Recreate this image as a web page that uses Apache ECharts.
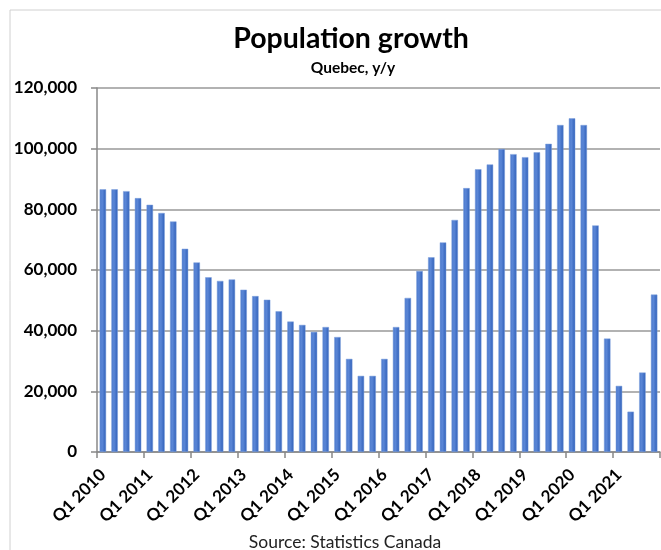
<!DOCTYPE html>
<html><head><meta charset="utf-8">
<script src="https://cdn.jsdelivr.net/npm/echarts@6/dist/echarts.min.js"></script>
<style>html,body{margin:0;padding:0;background:#fff}#c{width:661px;height:550px}</style>
</head><body><div id="c"></div>
<script>
const years = [2010,2011,2012,2013,2014,2015,2016,2017,2018,2019,2020,2021];
const quarters = ['Q1','Q2','Q3','Q4'];
const categories = [];
years.forEach(y => quarters.forEach(q => categories.push(q + ' ' + y)));
const growth = [
  86600, 86600, 86000, 83700, 81500, 78800, 76000, 67000,
  62500, 57600, 56400, 56900, 53500, 51400, 50200, 46400,
  43000, 41900, 39600, 41200, 37900, 30700, 25100, 25100,
  30700, 41200, 50800, 59700, 64200, 69100, 76500, 87000,
  93200, 94800, 99900, 98200, 97200, 98800, 101600, 107800,
  110000, 107800, 74700, 37400, 21800, 13300, 26200, 51900
];
const yTicks = {min: 0, max: 120000, interval: 20000};
const titleText = 'Population growth';
const subtitleText = 'Quebec, y/y';
const sourceText = 'Source: Statistics Canada';

const chart = echarts.init(document.getElementById('c'));
const FONT = 'Lato';
chart.setOption({
  animation: false,
  backgroundColor: '#fff',
  graphic: [
    {type: 'rect', shape: {x: 10, y: 10, width: 700, height: 600}, style: {fill: 'none', stroke: '#d0d0d0', lineWidth: 1}, z: -1},
    {type: 'text', x: 351, y: 24, style: {text: titleText, font: 'bold 28.5px ' + FONT, fill: '#000', textAlign: 'center', textVerticalAlign: 'top'}},
    {type: 'text', x: 353, y: 60, style: {text: subtitleText, font: 'bold 15.5px ' + FONT, fill: '#000', textAlign: 'center', textVerticalAlign: 'top'}},
    {type: 'text', x: 345, y: 533, style: {text: sourceText, font: '17.5px ' + FONT, fill: '#222', textAlign: 'center', textVerticalAlign: 'top'}}
  ],
  grid: {left: 97, right: 1, top: 88, bottom: 98, containLabel: false},
  xAxis: {
    type: 'category',
    data: categories,
    boundaryGap: true,
    axisLine: {lineStyle: {color: '#888', width: 1.5}},
    axisTick: {show: true, interval: 3, length: 6, lineStyle: {color: '#888', width: 1.5}},
    axisLabel: {interval: 3, rotate: 45, fontFamily: FONT, fontWeight: 'bold', fontSize: 17, color: '#000', margin: 20}
  },
  yAxis: {
    type: 'value',
    min: yTicks.min, max: yTicks.max, interval: yTicks.interval,
    axisLine: {show: true, lineStyle: {color: '#888', width: 1.5}},
    axisTick: {show: true, length: 6, lineStyle: {color: '#888', width: 1.5}},
    splitLine: {lineStyle: {color: '#999', width: 1.5}},
    axisLabel: {fontFamily: FONT, fontWeight: 'bold', fontSize: 17, color: '#000', margin: 20,
      formatter: v => v.toLocaleString('en-US')}
  },
  series: [{
    type: 'bar',
    data: growth,
    barWidth: '55%',
    itemStyle: {
      color: new echarts.graphic.LinearGradient(0, 0, 1, 0, [
        {offset: 0, color: '#4a78cc'},
        {offset: 0.4, color: '#5a86d6'},
        {offset: 1, color: '#2f5fb8'}
      ]),
      borderColor: '#7fa0dc', borderWidth: 0.5
    }
  }]
});
</script></body></html>
